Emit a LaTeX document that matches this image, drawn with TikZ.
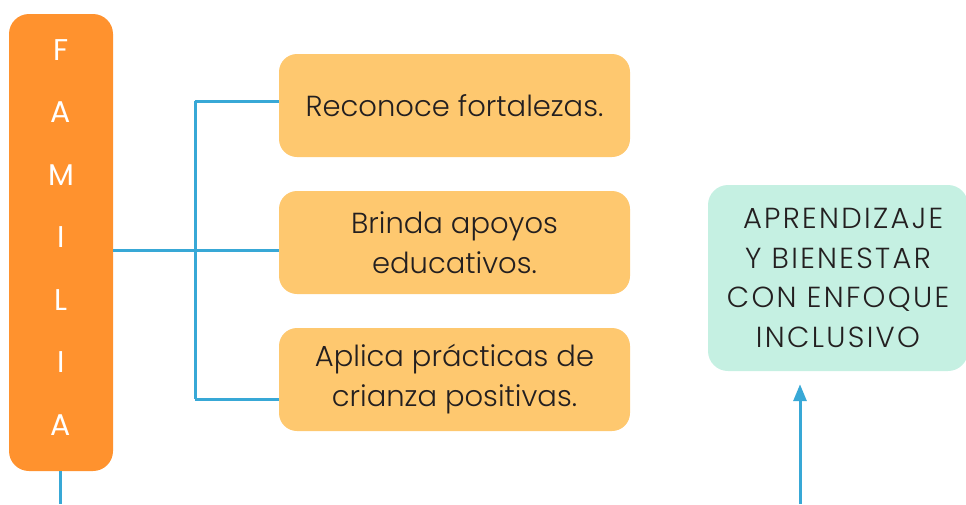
\documentclass[tikz,border=0pt]{standalone}
\usepackage{fontspec}
\setmainfont{Poppins}[UprightFont=* Light]
\newfontfamily\famfont{Poppins}
\newfontfamily\capsfont{Poppins}[UprightFont=* Light,LetterSpace=8]
\usetikzlibrary{arrows.meta}
\definecolor{famorange}{HTML}{FF922E}
\definecolor{boxyellow}{HTML}{FEC86F}
\definecolor{boxgreen}{HTML}{C5F0E2}
\definecolor{linkblue}{HTML}{38A8D6}
\definecolor{textdark}{HTML}{231F20}

\begin{document}
\begin{tikzpicture}[x=1pt,y=-1pt,
	fambox/.style={fill=famorange,rounded corners=20pt,inner sep=0pt,
		minimum width=104pt,minimum height=457pt,text=white,align=center,
		text depth=10pt,font=\famfont\fontsize{30}{62.5}\selectfont},
	actbox/.style={fill=boxyellow,rounded corners=18pt,inner sep=0pt,
		minimum width=351pt,minimum height=103pt,text=textdark,align=center,
		font=\fontsize{29}{40}\selectfont},
	goalbox/.style={fill=boxgreen,rounded corners=20pt,inner sep=0pt,
		minimum width=260pt,minimum height=186pt,text=textdark,align=center,
		font=\capsfont\fontsize{29}{39.5}\selectfont},
	link/.style={draw=linkblue,line width=3pt}]
		\useasboundingbox (0,0) rectangle (966,504);
		\begin{scope}
		\clip (0,0) rectangle (966,504);
		\node[fambox] (familia) at (61,242.5) {F\\A\\M\\I\\L\\I\\A};
		\node[actbox] (r1) at (454.5,105.5) {Reconoce fortalezas.};
		\node[actbox] (r2) at (454.5,242.5) {Brinda apoyos\\educativos.};
		\node[actbox] (r3) at (454.5,379.5) {Aplica prácticas de\\crianza positivas.};
		\node[goalbox] (meta) at (838,278) {\ APRENDIZAJE\\Y BIENESTAR\\CON ENFOQUE\\INCLUSIVO};
		\end{scope}
		%
		\coordinate (b1) at (195,101);
		\coordinate (b2) at (195,250);
		\coordinate (b3) at (195,399);
		\coordinate (famend) at (60,504);
		\coordinate (arrstart) at (800,504);
		%
		% connectors
		\path[link]
		(familia.east |- b2) edge (r2.west |- b2)
		(r1.west |- b1) edge (b1)
		(b1) edge (b3)
		(b3) edge (r3.west |- b3)
		(familia.south -| famend) edge (famend);
		\draw[link,-{Triangle[length=17pt,width=13pt]}] (arrstart) -- ([yshift=-13pt]meta.south -| arrstart);
\end{tikzpicture}
\end{document}
